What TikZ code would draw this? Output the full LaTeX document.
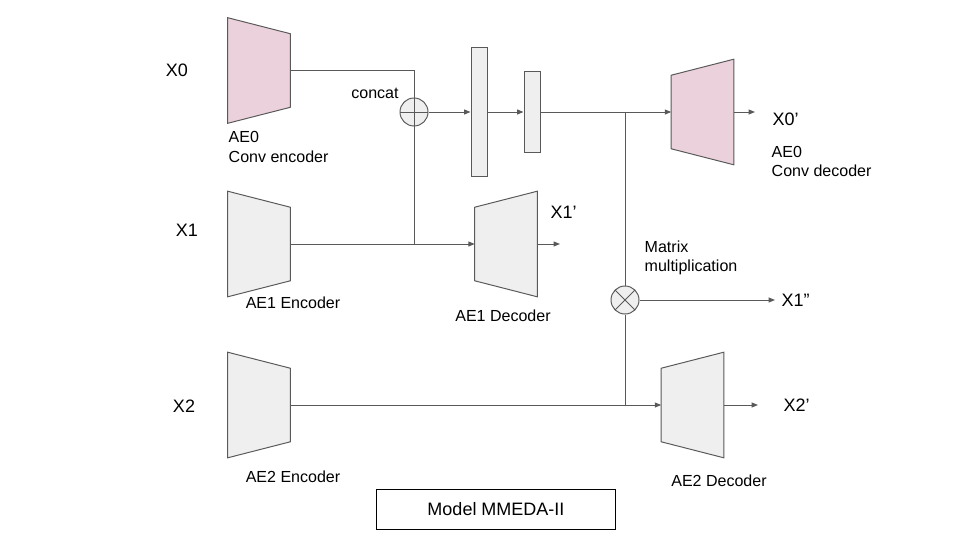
\documentclass[tikz,border=0pt]{standalone}
\usepackage{fontspec}
\setmainfont{Liberation Sans}
\usetikzlibrary{arrows.meta}

\definecolor{aepink}{HTML}{EAD1DC}
\definecolor{aegray}{HTML}{EFEFEF}
\definecolor{linegray}{HTML}{595959}

% trapezoid blocks: an empty node carries the name, the outline is drawn round it
\newcommand{\encshape}[3]{%
  \node[trap] (#1) at (#2) {};
  \draw[line, fill=#3] (#1.north west) -- ([yshift=-4mm]#1.north east)
    -- ([yshift=4mm]#1.south east) -- (#1.south west) -- cycle;}
\newcommand{\decshape}[3]{%
  \node[trap] (#1) at (#2) {};
  \draw[line, fill=#3] ([yshift=-4mm]#1.north west) -- (#1.north east)
    -- (#1.south east) -- ([yshift=4mm]#1.south west) -- cycle;}

\begin{document}
\begin{tikzpicture}[x=0.025cm, y=-0.025cm,
    line/.style={draw=linegray, line width=0.7pt},
    arr/.style={line, -{Triangle[length=4.5pt,width=3.5pt]}},
    trap/.style={inner sep=0pt, minimum width=1.55cm, minimum height=2.625cm},
    bar/.style={line, fill=aegray, inner sep=0pt, minimum width=0.4cm},
    op/.style={line, circle, fill=aegray, inner sep=0pt, minimum size=0.7cm},
    oplus/.style={op, path picture={\draw[line]
      (path picture bounding box.north) -- (path picture bounding box.south)
      (path picture bounding box.west) -- (path picture bounding box.east);}},
    otimes/.style={op, path picture={\draw[line]
      (path picture bounding box.north west) -- (path picture bounding box.south east)
      (path picture bounding box.south west) -- (path picture bounding box.north east);}},
    lbl/.style={inner sep=1pt, font=\fontsize{11.4}{13.6}\selectfont},
    xlbl/.style={inner sep=1pt, font=\fontsize{12.8}{15}\selectfont}]
  \useasboundingbox (0,0) rectangle (960,540);

  % inputs
  \node[xlbl] (x0) at (177,70) {X0};
  \node[xlbl] (x1) at (187,230) {X1};
  \node[xlbl] (x2) at (184,406) {X2};

  % encoders
  \encshape{enc0}{259,70.5}{aepink}
  \encshape{enc1}{259,244}{aegray}
  \encshape{enc2}{259,405}{aegray}
  \node[lbl, anchor=west, align=left] (enc0lbl) at (227,147) {AE0\\Conv encoder};
  \node[lbl] (enc1lbl) at (293,303) {AE1 Encoder};
  \node[lbl] (enc2lbl) at (293,477) {AE2 Encoder};

  % fusion
  \node[oplus] (cat) at (414,112) {};
  \node[lbl] (catlbl) at (375,93) {concat};
  \node[bar, minimum height=3.2cm] (bar1) at (479,112) {};
  \node[bar, minimum height=2cm] (bar2) at (532,112) {};
  \node[otimes] (mul) at (625,300) {};
  \node[lbl, anchor=west, align=left] (mullbl) at (643,258) {Matrix\\multiplication};

  % decoders
  \decshape{dec0}{702.5,112}{aepink}
  \decshape{dec1}{506,244}{aegray}
  \decshape{dec2}{692.5,405}{aegray}
  \node[lbl, anchor=west, align=left] (dec0lbl) at (770,161.5) {AE0\\Conv decoder};
  \node[lbl] (dec1lbl) at (503,316) {AE1 Decoder};
  \node[lbl] (dec2lbl) at (719,481) {AE2 Decoder};

  % outputs
  \node[xlbl, anchor=west] (x0o) at (771,119) {X0'};
  \node[xlbl, anchor=west] (x1o) at (549,212) {X1'};
  \node[xlbl, anchor=west] (x1m) at (780,300) {X1''};
  \node[xlbl, anchor=west] (x2o) at (782,405) {X2'};
  \coordinate (o0) at (755,112);
  \coordinate (o1) at (560,244);
  \coordinate (o1m) at (775,300);
  \coordinate (o2) at (758,405);
  \coordinate (j1) at (625,112);
  \coordinate (j2) at (625,405);

  % connectors
  \draw[line] (enc0.east) -| (cat.north);
  \draw[line] (cat.south) -- (cat.south |- enc1.east);
  \draw[arr] (enc1.east) -- (dec1.west);
  \draw[arr] (cat.east) -- (bar1.west);
  \draw[arr] (bar1.east) -- (bar2.west);
  \draw[arr] (bar2.east) -- (dec0.west);
  \draw[line] (j1) -- (mul.north);
  \draw[line] (mul.south) -- (j2);
  \draw[line] (enc2.east) -- (j2);
  \draw[arr] (j2) -- (dec2.west);
  \draw[arr] (mul.east) -- (o1m);
  \draw[arr] (dec0.east) -- (o0);
  \draw[arr] (dec1.east) -- (o1);
  \draw[arr] (dec2.east) -- (o2);

  \node[draw, line width=0.7pt, minimum width=5.975cm, minimum height=1cm,
    font=\fontsize{12.8}{15}\selectfont] (title) at (496,509) {Model MMEDA-II};
\end{tikzpicture}
\end{document}
